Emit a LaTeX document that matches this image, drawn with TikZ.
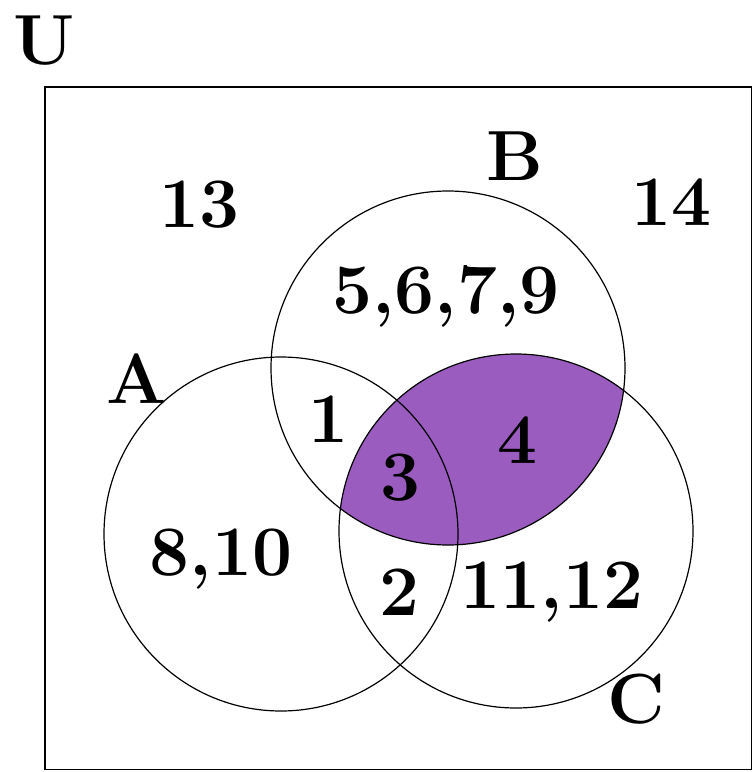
\documentclass[tikz,border=0pt]{standalone}
\definecolor{vennpurple}{RGB}{155,92,192}
\begin{document}
\begin{tikzpicture}[x=1pt,y=-1pt,
  lbl/.style={anchor=base,inner sep=0pt,font=\fontsize{71}{80}\selectfont\bfseries},
  ring/.style={draw=black,line width=1.2pt}]
\useasboundingbox (0,0) rectangle (754,772);
\coordinate (cA) at (281,534);
\coordinate (cB) at (448,368);
\coordinate (cC) at (516,531);
\begin{scope}
  \clip (cB) circle (177pt);
  \fill[fill=vennpurple] (cC) circle (177pt);
\end{scope}
\draw[line width=1.8pt] (45,87) rectangle (751.5,769.5);
\draw[ring] (cA) circle (177pt);
\draw[ring] (cB) circle (177pt);
\draw[ring] (cC) circle (177pt);
\node[lbl] (U) at (44,64) {U};
\node[lbl] (A) at (137,403) {A};
\node[lbl] (B) at (515,180) {B};
\node[lbl] (C) at (636,723) {C};
\node[lbl] (n13) at (199,227) {13};
\node[lbl] (n14) at (671,225) {14};
\node[lbl] (n5679) at (446,313) {5,6,7,9};
\node[lbl] (n1) at (328,442) {1};
\node[lbl] (n4) at (517,463) {4};
\node[lbl] (n3) at (400,500) {3};
\node[lbl] (n810) at (221,575) {8,10};
\node[lbl] (n2) at (399,615) {2};
\node[lbl] (n1112) at (552,608) {11,12};
\end{tikzpicture}
\end{document}
